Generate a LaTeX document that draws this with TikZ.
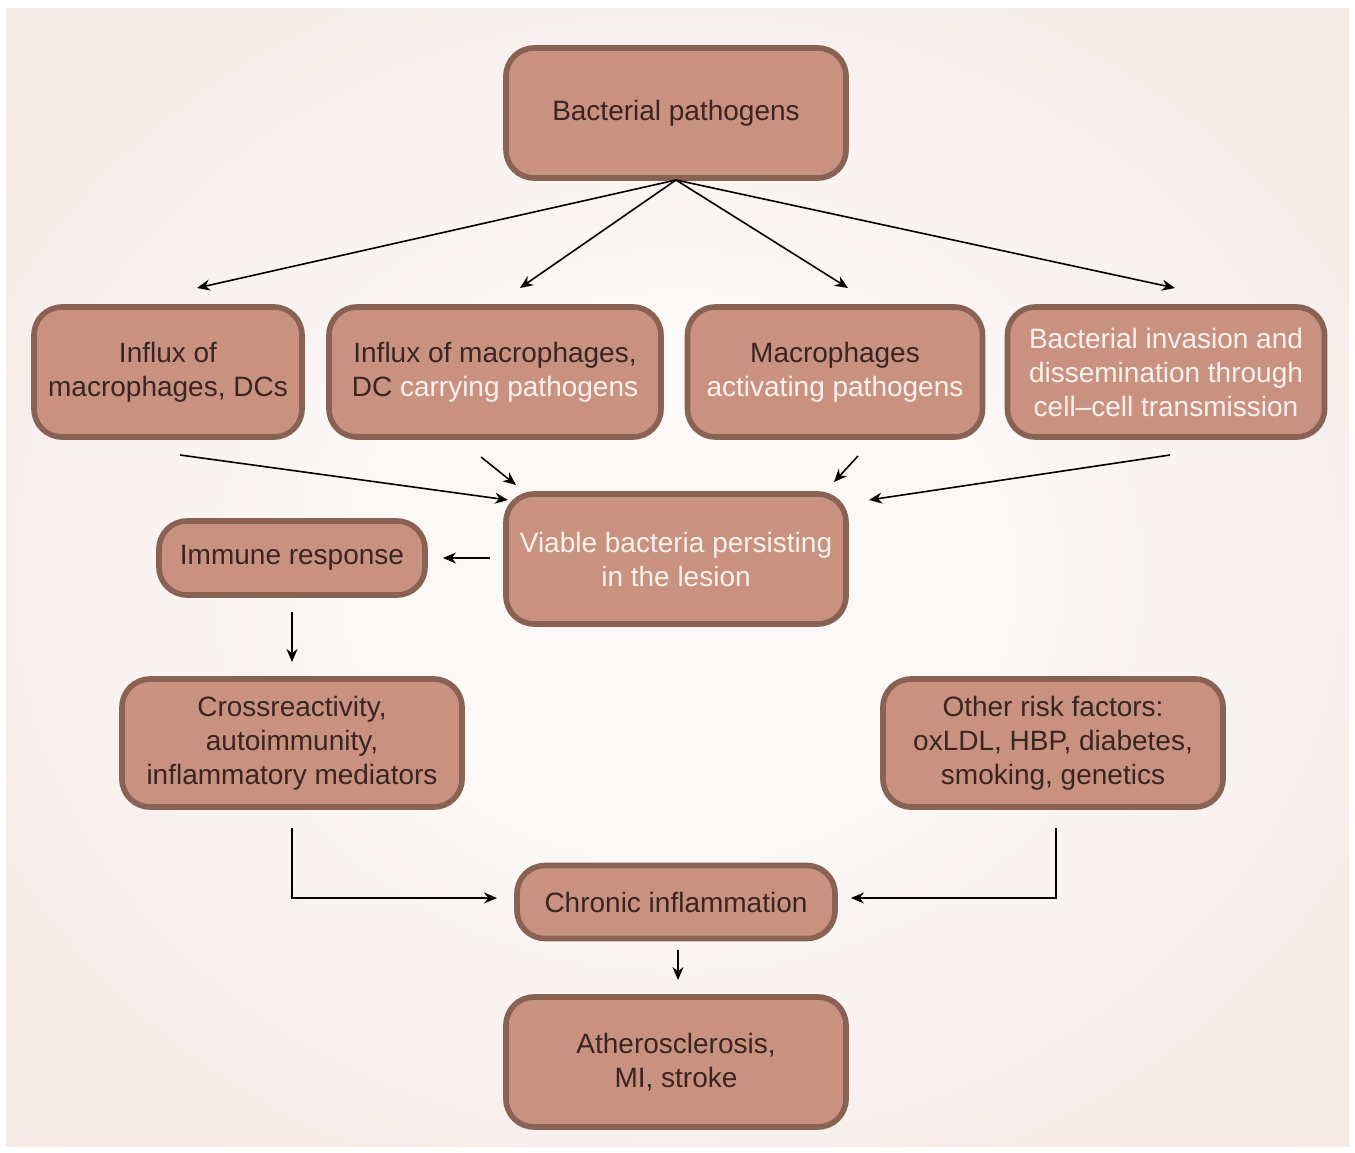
\documentclass[tikz,border=0pt]{standalone}
\usepackage{fontspec}
\setmainfont{Liberation Sans}
\usetikzlibrary{arrows.meta,calc}
\definecolor{boxfill}{HTML}{C99280}
\definecolor{boxedge}{HTML}{8A6254}
\definecolor{txtdark}{HTML}{3A2520}
\definecolor{txtlight}{HTML}{FBF1EC}
\definecolor{bgout}{HTML}{E6CCC9}
\definecolor{bgmid}{HTML}{F1E2DF}
\definecolor{bgin}{HTML}{FBF8F6}
\pgfdeclareradialshading{bgshade}{\pgfpoint{0bp}{0bp}}{color(0bp)=(bgin); color(12bp)=(bgin); color(45bp)=(bgmid); color(72bp)=(bgout)}
\begin{document}
\begin{tikzpicture}[x=0.5pt,y=-0.5pt,
 box/.style={draw=boxedge, line width=2.8pt, fill=boxfill, rounded corners=14pt, align=center, text=txtdark, font=\fontsize{14}{17}\selectfont, inner sep=0pt},
 arr/.style={-{Stealth[length=6.5pt,width=5.5pt]}, line width=0.8pt, black}]
\useasboundingbox (0,0) rectangle (1355,1152);
\fill[white] (0,0) rectangle (1355,1152);
\shade[shading=bgshade] (6,8) rectangle (1349,1146);

\node[box, minimum width=170pt, minimum height=65pt] (bp) at (676,113) {Bacterial pathogens};
\node[box, minimum width=134pt, minimum height=65pt] (in1) at (168,372) {Influx of\\macrophages, DCs};
\node[box, minimum width=166pt, minimum height=65pt] (in2) at (495,372) {Influx of macrophages,\\DC \textcolor{txtlight}{carrying pathogens}};
\node[box, minimum width=147.5pt, minimum height=65pt] (mac) at (835,372) {Macrophages\\\textcolor{txtlight}{activating pathogens}};
\node[box, minimum width=158.5pt, minimum height=65pt, text=txtlight] (inv) at (1166,372) {Bacterial invasion and\\dissemination through\\cell--cell transmission};
\node[box, minimum width=170pt, minimum height=65pt, text=txtlight] (via) at (676,559) {Viable bacteria persisting\\in the lesion};
\node[box, minimum width=133pt, minimum height=37pt] (imm) at (292,558) {Immune response};
\node[box, minimum width=170pt, minimum height=64pt] (cro) at (292,743) {Crossreactivity,\\autoimmunity,\\inflammatory mediators};
\node[box, minimum width=170pt, minimum height=64pt] (oth) at (1053,743) {Other risk factors:\\oxLDL, HBP, diabetes,\\smoking, genetics};
\node[box, minimum width=159pt, minimum height=36.5pt] (chr) at (676,902) {Chronic inflammation};
\node[box, minimum width=170pt, minimum height=65pt] (ath) at (676,1062) {Atherosclerosis,\\MI, stroke};

% top fan-out
\coordinate (src) at (676,180);
\coordinate (t1) at (197,288);
\coordinate (t2) at (520,288);
\coordinate (t3) at (848,288);
\coordinate (t4) at (1175,288);
\draw[arr] (src) -- (t1);
\draw[arr] (src) -- (t2);
\draw[arr] (src) -- (t3);
\draw[arr] (src) -- (t4);

% converge to viable
\coordinate (s1) at (180,455); \coordinate (e1) at (508,500);
\coordinate (s2) at (481,457); \coordinate (e2) at (516,485);
\coordinate (s3) at (858,456); \coordinate (e3) at (834,482);
\coordinate (s4) at (1170,455); \coordinate (e4) at (869,500);
\draw[arr] (s1) -- (e1);
\draw[arr] (s2) -- (e2);
\draw[arr] (s3) -- (e3);
\draw[arr] (s4) -- (e4);

% viable -> immune
\coordinate (vi) at (490,558);
\coordinate (ie) at (443,558);
\draw[arr] (vi) -- (ie);

% immune -> cross
\coordinate (is) at (292,612);
\coordinate (ce) at (292,662);
\draw[arr] (is) -- (ce);

% cross -> chronic, other -> chronic
\coordinate (cs) at (292,828);
\coordinate (ch1) at (497,898);
\draw[arr] (cs) |- (ch1);
\coordinate (os) at (1056,828);
\coordinate (ch2) at (851,898);
\draw[arr] (os) |- (ch2);

% chronic -> atherosclerosis
\coordinate (cb) at (678,950);
\coordinate (at) at (678,980);
\draw[arr] (cb) -- (at);
\end{tikzpicture}
\end{document}
